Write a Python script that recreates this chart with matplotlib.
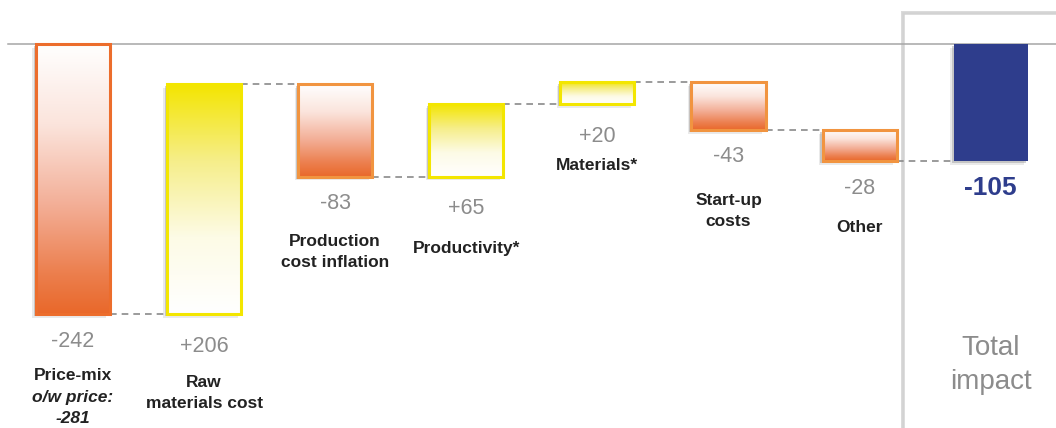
import numpy as np
import matplotlib.pyplot as plt
import matplotlib.patheffects as pe
from matplotlib.colors import LinearSegmentedColormap
from matplotlib.patches import Rectangle

plt.rcParams['font.family'] = ['Liberation Sans', 'DejaVu Sans']

# Bridge steps (EUR m)
categories = ['Price-mix', 'Raw\nmaterials cost', 'Production\ncost inflation',
              'Productivity*', 'Materials*', 'Start-up\ncosts', 'Other']
deltas = [-242, 206, -83, 65, 20, -43, -28]
price_note = 'o/w price:\n-281'
total_label = 'Total\nimpact'
total_value = -105

# small vertical tweaks (px) for some category captions
caption_nudge = {0: 3, 4: 7, 5: -6, 6: -2, 3: -3}

loss_cmap = LinearSegmentedColormap.from_list(
    'loss', [(0, '#ffffff'), (0.3, '#fbe4dc'), (0.6, '#f3ae96'), (0.85, '#ec7f4e'), (1, '#e9682a')])
gain_cmap = LinearSegmentedColormap.from_list('gain', ['#f3e500', '#f6ee8a', '#fdfbe6', '#ffffff'])
grad = np.linspace(0, 1, 256).reshape(-1, 1)

fig = plt.figure(figsize=(10.56, 4.28), dpi=100)
ax = fig.add_axes([0, 0, 1, 1])
ax.axis('off')

width = 0.565
shadow = [pe.SimplePatchShadow(offset=(-2.6, -2.6), shadow_rgbFace='#909090', alpha=0.18),
          pe.SimplePatchShadow(offset=(-1.5, -1.5), shadow_rgbFace='#808080', alpha=0.35),
          pe.Normal()]

# framed "total" panel on the right
ax.add_patch(Rectangle((903 / 1056, -0.05), 0.2, 1 - 13 / 428 + 0.05, transform=ax.transAxes,
                       facecolor='white', edgecolor='#d2d2d2', lw=1.8, zorder=0,
                       path_effects=[pe.SimplePatchShadow(offset=(-1.5, 1.5), shadow_rgbFace='#b8b8b8', alpha=0.5),
                                     pe.Normal()]))

ax.axhline(0, xmin=8 / 1056, xmax=1, color='#a6a6a6', lw=1.1, zorder=1)

level = 0
for i, (cat, d) in enumerate(zip(categories, deltas)):
    top, bottom = max(level, level + d), min(level, level + d)
    x0 = i - width / 2
    if d < 0:
        cmap, edge = loss_cmap, ('#ec6d2c' if i == 0 else '#f19440')
        val_off, cat_off = -27, -57
    else:
        cmap, edge = gain_cmap, '#f3e600'
        val_off, cat_off = -32, -61
    cat_off += caption_nudge.get(i, 0)
    ax.add_patch(Rectangle((x0, bottom), width, top - bottom, facecolor='white',
                           edgecolor='none', zorder=2, path_effects=shadow))
    ax.imshow(grad, cmap=cmap, aspect='auto', extent=(x0, x0 + width, bottom, top),
              origin='upper', zorder=3, interpolation='bilinear')
    ax.add_patch(Rectangle((x0, bottom), width, top - bottom, facecolor='none',
                           edgecolor=edge, lw=2.2, zorder=4))

    # dashed connector to the next bar
    new_level = level + d
    ax.plot([i + width / 2, i + 1 - width / 2], [new_level, new_level],
            color='#8a8a8a', lw=1.2, ls=(0, (4, 3)), zorder=1)

    ax.annotate(f'{d:+d}', (i, bottom), xytext=(0, val_off), textcoords='offset pixels',
                ha='center', va='center', fontsize=15.5, color='#8c8c8c')
    ax.annotate(cat, (i, bottom), xytext=(0, cat_off), textcoords='offset pixels',
                ha='center', va='top', fontsize=12.5, fontweight='bold',
                color='#222222', linespacing=1.5)
    if i == 0:
        ax.annotate(price_note, (i, bottom), xytext=(0, cat_off - 22), textcoords='offset pixels',
                    ha='center', va='top', fontsize=12.5, fontweight='bold',
                    fontstyle='italic', color='#222222', linespacing=1.5)
    level = new_level

# total bar
it = len(categories)
ax.add_patch(Rectangle((it - width / 2, total_value), width, -total_value, facecolor='#2e3d8c',
                       edgecolor='none', zorder=3, path_effects=shadow))
ax.annotate(f'{total_value}', (it, total_value), xytext=(0, -27), textcoords='offset pixels',
            ha='center', va='center', fontsize=19, fontweight='bold', color='#2e3d8c')
ax.annotate(total_label, (it, total_value), xytext=(0, -174), textcoords='offset pixels',
            ha='center', va='top', fontsize=20, color='#8c8c8c', linespacing=1.4)

ax.set_xlim(-73 / 131.1, (1056 - 73) / 131.1)
ax.set_ylim(-(428 - 44) / 1.116, 44 / 1.116)

fig.savefig('out.png', dpi=100)
